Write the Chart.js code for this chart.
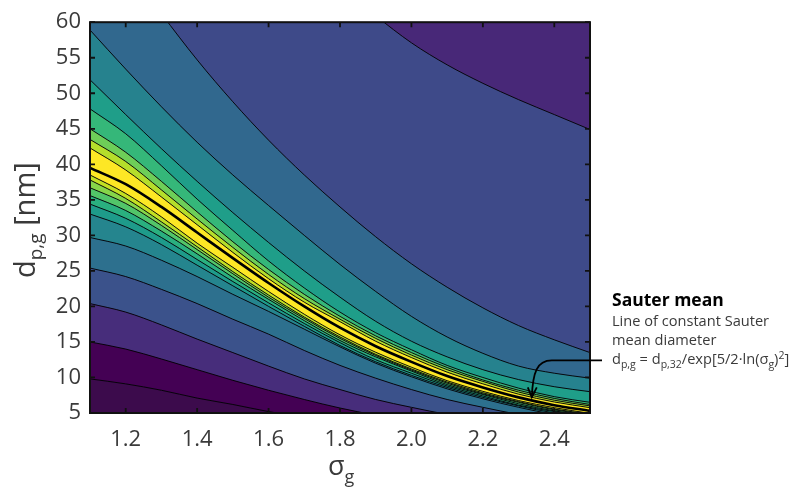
<!DOCTYPE html>
<html>
<head>
<meta charset="utf-8"/>
<title>Sauter mean contour</title>
<script src="https://cdn.jsdelivr.net/npm/chart.js@4.4.1/dist/chart.umd.min.js"></script>
<style>
body{ margin:0; background:#fff; }
#wrap{ width:795px; height:487px; }
</style>
</head>
<body>
<div id="wrap"><canvas id="chart"></canvas></div>
<script>
var sigma = [1.1, 1.2, 1.3, 1.4, 1.5, 1.6, 1.7, 1.8, 1.9, 2.0, 2.1, 2.2, 2.3, 2.4, 2.5];

// contour lines below the ridge, bottom to top (d_p,g in nm)
var low1  = [9.8, 9.1, 8.2, 7.1, 6.2, 5.2, 4.4, 3.7, 3.1, 2.6, 2.2, 1.8, 1.5, 1.3, 1.1];
var low2  = [15.0, 14.0, 12.6, 11.1, 9.6, 8.2, 6.9, 5.7, 4.7, 3.9, 3.2, 2.7, 2.2, 1.9, 1.6];
var low3  = [20.4, 19.2, 17.4, 15.4, 13.5, 11.6, 9.8, 8.3, 6.9, 5.8, 4.8, 4.0, 3.3, 2.8, 2.4];
var low4  = [25.4, 24.2, 22.4, 20.4, 18.2, 16.1, 13.8, 11.7, 9.9, 8.3, 6.9, 5.8, 4.8, 4.0, 3.5];
var low5  = [29.7, 28.5, 26.5, 24.2, 21.7, 19.3, 16.8, 14.3, 12.0, 10.1, 8.4, 7.0, 5.8, 4.8, 4.1];
var low6  = [33.0, 31.2, 28.7, 25.8, 22.9, 20.0, 17.2, 14.5, 12.2, 10.3, 8.6, 7.2, 6.0, 5.0, 4.3];
var low7  = [34.4, 32.4, 29.7, 26.6, 23.5, 20.5, 17.6, 14.9, 12.5, 10.6, 8.8, 7.4, 6.1, 5.2, 4.5];
var low8  = [35.6, 33.5, 30.6, 27.4, 24.1, 21.0, 18.0, 15.2, 12.9, 10.9, 9.0, 7.6, 6.3, 5.3, 4.6];
var low9  = [36.7, 34.5, 31.4, 28.0, 24.6, 21.3, 18.3, 15.5, 13.1, 11.05, 9.2, 7.7, 6.5, 5.45, 4.75];
var low10 = [37.8, 35.2, 31.9, 28.4, 24.9, 21.6, 18.5, 15.7, 13.25, 11.2, 9.35, 7.85, 6.6, 5.55, 4.85];
var low11 = [38.5, 35.9, 32.6, 28.9, 25.5, 22.1, 18.9, 16.0, 13.55, 11.45, 9.55, 8.05, 6.75, 5.75, 4.95];

// contour lines above the ridge, bottom to top
var high1 = [42.3, 39.2, 35.4, 31.5, 27.6, 23.9, 20.6, 17.85, 15.1, 12.8, 10.75, 9.1, 7.65, 6.55, 5.75];
var high2 = [43.5, 40.4, 36.4, 32.3, 28.3, 24.5, 21.1, 18.2, 15.5, 13.15, 11.1, 9.45, 7.95, 6.8, 6.0];
var high3 = [45.0, 41.7, 37.6, 33.3, 29.1, 25.2, 21.7, 18.6, 15.85, 13.5, 11.4, 9.65, 8.2, 7.05, 6.2];
var high4 = [47.8, 44.3, 39.8, 35.1, 30.7, 26.4, 22.6, 19.2, 16.3, 13.9, 11.7, 10.0, 8.5, 7.3, 6.5];
var high5 = [51.9, 47.0, 42.2, 37.6, 33.2, 29.0, 25.0, 21.3, 17.9, 15.1, 12.9, 11.1, 9.7, 8.7, 8.0];
var high6 = [58.9, 53.4, 48.1, 43.1, 38.5, 34.2, 30.0, 25.9, 22.1, 18.6, 15.7, 13.4, 11.6, 10.6, 9.9];
var high7 = [75, 68, 61.2, 54.7, 48.8, 43.4, 38.5, 34.0, 29.8, 26.0, 22.7, 19.8, 17.3, 15.3, 13.5];
var high8 = [108, 100, 93, 86.3, 80.3, 74.8, 69.6, 65.0, 60.9, 57.1, 54.0, 51.4, 49.1, 47.0, 44.9];

// line of constant Sauter mean diameter
var sauter = [39.5, 37.2, 34.0, 30.4, 26.8, 23.3, 20.0, 17.0, 14.4, 12.2, 10.2, 8.6, 7.2, 6.1, 5.3];

var xTicks = [1.2, 1.4, 1.6, 1.8, 2.0, 2.2, 2.4];
var yTicks = [5, 10, 15, 20, 25, 30, 35, 40, 45, 50, 55, 60];

// arrow of the annotation: tip and start height (sigma_g, d_p,g)
var arrowTip = [2.337, 7.2];
var arrowStartD = 12.4;

var contours = [low1, low2, low3, low4, low5, low6, low7, low8, low9, low10, low11,
                high1, high2, high3, high4, high5, high6, high7, high8];
// colour of the band just below each contour line
var bandColors = ['#3c0b4c', '#440154', '#472d7b', '#3b528b', '#2d708e', '#25858e',
                  '#1e9b8a', '#2ab07f', '#52c569', '#86d549', '#c2df23',
                  '#fde725', '#b5de2b', '#6ece58', '#35b779', '#1f9e89', '#26828e',
                  '#31688e', '#3e4a89'];
var topColor = '#482878';

var FONT = "'Open Sans', 'DejaVu Sans', sans-serif";

function pts(arr){
  return sigma.map(function(s, i){ return { x: s, y: arr[i] }; });
}

var datasets = [{
  data: pts(sauter), borderColor: '#000', borderWidth: 2.6, fill: false,
  pointRadius: 0, cubicInterpolationMode: 'monotone'
}];
contours.forEach(function(c, i){
  datasets.push({
    data: pts(c), borderColor: '#000', borderWidth: 0.9,
    pointRadius: 0, cubicInterpolationMode: 'monotone',
    fill: i === 0 ? 'start' : '-1', backgroundColor: bandColors[i]
  });
});

var areaBg = {
  id: 'areaBg',
  beforeDatasetsDraw: function(chart){
    var a = chart.chartArea, ctx = chart.ctx;
    ctx.save();
    ctx.fillStyle = topColor;
    ctx.fillRect(a.left, a.top, a.right - a.left, a.bottom - a.top);
    ctx.restore();
  }
};

var frame = {
  id: 'frame',
  afterDatasetsDraw: function(chart){
    var a = chart.chartArea, ctx = chart.ctx;
    var xs = chart.scales.x, ys = chart.scales.y;
    ctx.save();
    ctx.strokeStyle = '#111';
    ctx.lineWidth = 1.8;
    ctx.beginPath();
    xTicks.forEach(function(v){
      var px = xs.getPixelForValue(v);
      ctx.moveTo(px, a.bottom); ctx.lineTo(px, a.bottom - 5);
      ctx.moveTo(px, a.top); ctx.lineTo(px, a.top + 5);
    });
    yTicks.forEach(function(v){
      var py = ys.getPixelForValue(v);
      ctx.moveTo(a.left, py); ctx.lineTo(a.left + 5, py);
      ctx.moveTo(a.right, py); ctx.lineTo(a.right - 5, py);
    });
    ctx.stroke();
    ctx.lineWidth = 2;
    ctx.strokeRect(a.left, a.top, a.right - a.left, a.bottom - a.top);
    ctx.restore();
  }
};

// draws a run of text pieces: [text, size, dy, bold]
function runText(ctx, x, y, parts, color){
  parts.forEach(function(p){
    ctx.font = (p[3] ? 'bold ' : '') + p[1] + 'px ' + FONT;
    ctx.fillStyle = color;
    ctx.fillText(p[0], x, y + p[2]);
    x += ctx.measureText(p[0]).width;
  });
  return x;
}

var labels = {
  id: 'labels',
  afterDraw: function(chart){
    var a = chart.chartArea, ctx = chart.ctx;
    var xs = chart.scales.x, ys = chart.scales.y;
    ctx.save();
    ctx.textBaseline = 'alphabetic';
    ctx.textAlign = 'left';

    // y axis title, rotated
    ctx.save();
    ctx.translate(35, 278);
    ctx.rotate(-Math.PI / 2);
    runText(ctx, 0, 0, [['d', 29, 0], ['p,g', 19, 7], [' [nm]', 29, 0]], '#3a3a3a');
    ctx.restore();

    // x axis title
    runText(ctx, (a.left + a.right) / 2 - 12, 475, [['\u03c3', 27, 0], ['g', 18, 8]], '#3a3a3a');

    // annotation text
    var tx = a.right + 22;
    runText(ctx, tx, 306, [['Sauter mean', 17.5, 0, true]], '#000');
    runText(ctx, tx, 326, [['Line of constant Sauter', 14.6, 0]], '#3a3a3a');
    runText(ctx, tx, 345, [['mean diameter', 14.6, 0]], '#3a3a3a');
    runText(ctx, tx, 364, [['d', 14.6, 0], ['p,g', 10.5, 3.5], [' = d', 14.6, 0], ['p,32', 10.5, 3.5],
      ['/exp[5/2\u00b7ln(\u03c3', 14.6, 0], ['g', 10.5, 3.5], [')', 14.6, 0], ['2', 10.5, -5.5], [']', 14.6, 0]], '#3a3a3a');

    // arrow from the text to the Sauter mean line
    var tipX = xs.getPixelForValue(arrowTip[0]), tipY = ys.getPixelForValue(arrowTip[1]);
    var sy = ys.getPixelForValue(arrowStartD);
    var sx = a.right + 12;
    var bendX = tipX + 20;
    ctx.strokeStyle = '#000';
    ctx.lineWidth = 1.8;
    ctx.beginPath();
    ctx.moveTo(sx, sy);
    ctx.lineTo(bendX, sy);
    ctx.bezierCurveTo(tipX + 5, sy, tipX + 1, sy + 12, tipX, tipY);
    ctx.stroke();
    ctx.beginPath();
    ctx.moveTo(tipX - 4, tipY - 10);
    ctx.lineTo(tipX, tipY);
    ctx.lineTo(tipX + 5, tipY - 10);
    ctx.stroke();
    ctx.restore();
  }
};

new Chart(document.getElementById('chart'), {
  type: 'line',
  data: { datasets: datasets },
  options: {
    responsive: true,
    maintainAspectRatio: false,
    animation: false,
    events: [],
    layout: { padding: { top: 17, right: 205, bottom: 0, left: 0 } },
    plugins: { legend: { display: false }, tooltip: { enabled: false } },
    scales: {
      x: {
        type: 'linear', min: 1.1, max: 2.5,
        grid: { display: false, drawTicks: false },
        border: { display: false },
        afterBuildTicks: function(s){ s.ticks = xTicks.map(function(v){ return { value: v }; }); },
        afterFit: function(s){ s.height = 74; },
        ticks: {
          autoSkip: false, maxRotation: 0, padding: 14, color: '#3a3a3a',
          font: { family: FONT, size: 22 },
          callback: function(v){ return Number(v).toFixed(1); }
        }
      },
      y: {
        type: 'linear', min: 5, max: 60,
        grid: { display: false, drawTicks: false },
        border: { display: false },
        afterBuildTicks: function(s){ s.ticks = yTicks.map(function(v){ return { value: v }; }); },
        afterFit: function(s){ s.width = 90; },
        ticks: {
          autoSkip: false, padding: 9, color: '#3a3a3a',
          font: { family: FONT, size: 22 }
        }
      }
    }
  },
  plugins: [areaBg, frame, labels]
});
</script>
</body>
</html>
